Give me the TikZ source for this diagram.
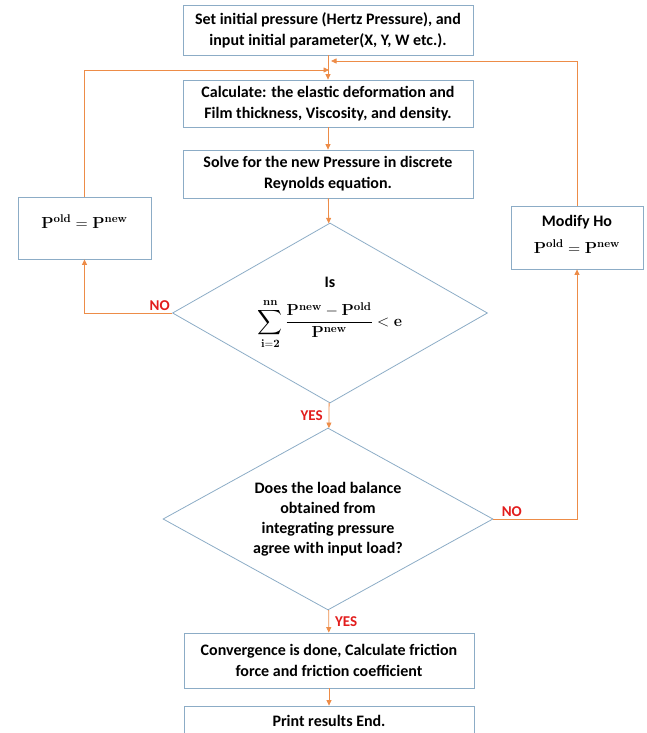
\documentclass[tikz,border=0pt]{standalone}
\usepackage{fix-cm}
\usepackage{exscale}
\usepackage[no-math]{fontspec}
\setmainfont{Carlito}
\usetikzlibrary{arrows.meta,shapes.geometric}

\definecolor{boxblue}{RGB}{140,172,198}
\definecolor{lineorange}{RGB}{237,140,72}
\definecolor{labelred}{RGB}{226,28,28}

\newcommand{\Pold}{\mathbf{P}^{\mathbf{old}}}
\newcommand{\Pnew}{\mathbf{P}^{\mathbf{new}}}

\begin{document}
\begin{tikzpicture}[x=1pt, y=-1pt,
        every node/.style={font=\bfseries\fontsize{16}{21}\selectfont},
        stepbox/.style={draw=boxblue, line width=0.8pt, align=center, inner sep=2pt,
                minimum width=290pt, minimum height=48pt},
        decision/.style={diamond, draw=boxblue, line width=0.8pt, align=center, inner sep=0pt},
        flow/.style={draw=lineorange, line width=0.8pt, -{Triangle[length=5.5pt,width=5pt]}},
        lbl/.style={text=labelred, inner sep=2pt, font=\bfseries\fontsize{15}{18}\selectfont}]
        \useasboundingbox (0,0) rectangle (647,733);

        \node[stepbox, minimum height=50pt] (init) at (328,30)
        {Set initial pressure (Hertz Pressure), and\\input initial parameter(X, Y, W etc.).};
        \node[stepbox, minimum height=47pt] (calc) at (328,103.5)
        {Calculate: the elastic deformation and\\Film thickness, Viscosity, and density.};
        \node[stepbox] (solve) at (328,174)
        {Solve for the new Pressure in discrete\\Reynolds equation.};

        \node[decision, aspect=1.75, minimum width=315pt, minimum height=180pt] (conv) at (330,313)
        {Is\\[10pt] $\displaystyle\sum_{\mathbf{i=2}}^{\mathbf{nn}}\frac{\Pnew-\Pold}{\Pnew}<\mathbf{e}$};
        \node[decision, aspect=1.8, minimum width=330pt, minimum height=182pt] (load) at (328,519)
        {Does the load balance\\[-1pt]obtained from\\[-1pt]integrating pressure\\[-1pt]agree with input load?};

        \node[stepbox, minimum height=55pt] (fric) at (329,660.5)
        {Convergence is done, Calculate friction\\force and friction coefficient};
        \node[stepbox, minimum height=30pt] (print) at (329,721) {Print results End.};

        \node[stepbox, minimum width=133pt, minimum height=62pt] (swap) at (84.5,228) {$\Pold=\Pnew$\\[-9pt]};
        \node[stepbox, minimum width=132pt, minimum height=63pt] (modho) at (577,237.5)
        {Modify Ho\\[6pt]$\Pold=\Pnew$\\[-15pt]};

        \coordinate (ljoin) at (329,70);
        \coordinate (rjoin) at (331,61);

        % main chain
        \foreach \a/\b in {init/calc, calc/solve, solve/conv, fric/print}
        \draw[flow] (\a) -- (\b);
        \draw[flow] (conv) -- node[lbl, left=4pt] {YES} (load);
        \draw[flow] (load) -- node[lbl, right=4pt] {YES} (fric);

        % loops
        \draw[flow] (conv.west) node[lbl, anchor=south east] {NO} -| (swap.south);
        \draw[flow] (swap.north) |- (ljoin);
        \draw[flow] (load.east) node[lbl, anchor=south west, xshift=6pt] {NO} -| (modho.south);
        \draw[flow] (modho.north) |- (rjoin);
\end{tikzpicture}
\end{document}
